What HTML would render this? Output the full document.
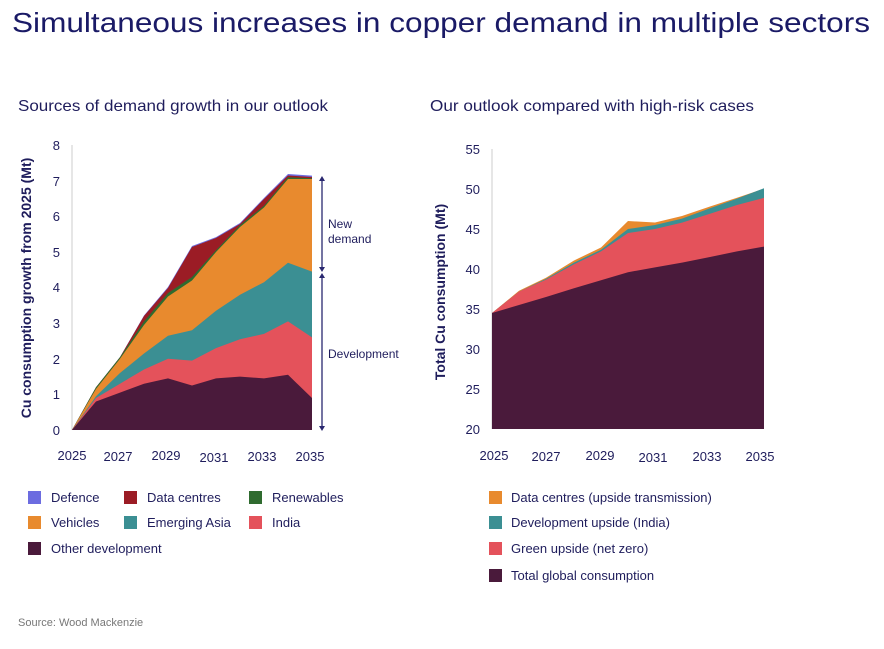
<!DOCTYPE html>
<html><head><style>
body{margin:0;background:#fff;width:884px;height:644px;overflow:hidden;font-family:"Liberation Sans",sans-serif;color:#1f1d5c}
</style></head><body>
<svg width="884" height="644" xmlns="http://www.w3.org/2000/svg" font-family="Liberation Sans, sans-serif" fill="#1f1d5c">
<text x="12" y="32" font-size="28" fill="#1a1a66" textLength="858" lengthAdjust="spacingAndGlyphs">Simultaneous increases in copper demand in multiple sectors</text>
<text x="18" y="111" font-size="16" textLength="310" lengthAdjust="spacingAndGlyphs">Sources of demand growth in our outlook</text>
<text x="430" y="111" font-size="16" textLength="324" lengthAdjust="spacingAndGlyphs">Our outlook compared with high-risk cases</text>

<!-- Left chart -->
<line x1="72" y1="145" x2="72" y2="430" stroke="#ccc"/>
<g font-size="13" text-anchor="end">
<text x="60" y="435">0</text><text x="60" y="399">1</text><text x="60" y="364">2</text><text x="60" y="328">3</text><text x="60" y="292">4</text><text x="60" y="257">5</text><text x="60" y="221">6</text><text x="60" y="186">7</text><text x="60" y="150">8</text>
</g>
<text transform="translate(31,288) rotate(-90)" font-size="14" font-weight="bold" text-anchor="middle">Cu consumption growth from 2025 (Mt)</text>
<g font-size="13" text-anchor="middle">
<text x="72" y="460">2025</text><text x="118" y="461">2027</text><text x="166" y="460">2029</text><text x="214" y="462">2031</text><text x="262" y="461">2033</text><text x="310" y="461">2035</text>
</g>
<polygon fill="#6c6ce0" points="72,430 96,387.3 120,357.1 144,315.5 168,287 192,246 216,237.1 240,223 264,198 288,174 312,175.6 312,430"/>
<polygon fill="#9b1c25" points="72,430 96,387.3 120,357.1 144,316 168,288 192,247 216,238 240,224 264,199 288,175.5 312,177 312,430"/>
<polygon fill="#2f6b2f" points="72,430 96,387.3 120,357.1 144,321.4 168,293 192,277 216,250.2 240,225.3 264,205.7 288,177.2 312,178.3 312,430"/>
<polygon fill="#e88a2e" points="72,430 96,389 120,358.8 144,325 168,296.5 192,280.5 216,252 240,227 264,207.5 288,179 312,179 312,430"/>
<polygon fill="#3b8f93" points="72,430 96,396.2 120,373 144,353.5 168,335.7 192,330.3 216,310.7 240,294.7 264,282.2 288,262.7 312,271.6 312,430"/>
<polygon fill="#e4525b" points="72,430 96,398 120,383.7 144,369.5 168,358.8 192,360.6 216,348.1 240,339.2 264,333.9 288,321.4 312,337.4 312,430"/>
<polygon fill="#4a1a3b" points="72,430 96,401.5 120,392.6 144,383.7 168,378.4 192,385.5 216,378.4 240,376.6 264,378.4 288,374.8 312,398 312,430"/>
<g stroke="#2a2870" stroke-width="1.3" fill="#2a2870">
<line x1="322" y1="180" x2="322" y2="269"/><line x1="322" y1="276" x2="322" y2="429"/>
<polygon points="322,176 319,181 325,181" stroke="none"/><polygon points="322,272 319,267 325,267" stroke="none"/>
<polygon points="322,273 319,278 325,278" stroke="none"/><polygon points="322,431 319,426 325,426" stroke="none"/>
</g>
<g font-size="12"><text x="328" y="228">New</text><text x="328" y="243">demand</text><text x="328" y="358">Development</text></g>

<!-- Right chart -->
<line x1="492" y1="149" x2="492" y2="429" stroke="#ccc"/>
<g font-size="13" text-anchor="end">
<text x="480" y="434">20</text><text x="480" y="394">25</text><text x="480" y="354">30</text><text x="480" y="314">35</text><text x="480" y="274">40</text><text x="480" y="234">45</text><text x="480" y="194">50</text><text x="480" y="154">55</text>
</g>
<text transform="translate(445,292) rotate(-90)" font-size="14" font-weight="bold" text-anchor="middle">Total Cu consumption (Mt)</text>
<g font-size="13" text-anchor="middle">
<text x="494" y="460">2025</text><text x="546" y="461">2027</text><text x="600" y="460">2029</text><text x="653" y="462">2031</text><text x="707" y="461">2033</text><text x="760" y="461">2035</text>
</g>
<polygon fill="#e88a2e" points="492,313 519,290.8 546,277.8 574,260.5 601,247.5 628,221 655,222.5 682,216 710,206.5 737,197.8 764,188.6 764,429 492,429"/>
<polygon fill="#3b8f93" points="492,313 519,291.6 546,278.8 574,262.6 601,249.8 628,229 655,225 682,218.6 710,208.2 737,198.6 764,188.2 764,429 492,429"/>
<polygon fill="#e4525b" points="492,313 519,291.6 546,279.6 574,264.2 601,251.4 628,233 655,229 682,222.6 710,213.8 737,205 764,197.8 764,429 492,429"/>
<polygon fill="#4a1a3b" points="492,313 519,305 546,297 574,288.2 601,280.2 628,272.2 655,267.4 682,262.6 710,257 737,251.4 764,246.6 764,429 492,429"/>

<!-- Legends -->
<g font-size="13">
<rect x="28" y="491" width="13" height="13" fill="#6c6ce0"/><text x="51" y="502">Defence</text>
<rect x="124" y="491" width="13" height="13" fill="#9b1c25"/><text x="147" y="502">Data centres</text>
<rect x="249" y="491" width="13" height="13" fill="#2f6b2f"/><text x="272" y="502">Renewables</text>
<rect x="28" y="516" width="13" height="13" fill="#e88a2e"/><text x="51" y="527">Vehicles</text>
<rect x="124" y="516" width="13" height="13" fill="#3b8f93"/><text x="147" y="527">Emerging Asia</text>
<rect x="249" y="516" width="13" height="13" fill="#e4525b"/><text x="272" y="527">India</text>
<rect x="28" y="542" width="13" height="13" fill="#4a1a3b"/><text x="51" y="553">Other development</text>
<rect x="489" y="491" width="13" height="13" fill="#e88a2e"/><text x="511" y="502">Data centres (upside transmission)</text>
<rect x="489" y="516" width="13" height="13" fill="#3b8f93"/><text x="511" y="527">Development upside (India)</text>
<rect x="489" y="542" width="13" height="13" fill="#e4525b"/><text x="511" y="553">Green upside (net zero)</text>
<rect x="489" y="569" width="13" height="13" fill="#4a1a3b"/><text x="511" y="580">Total global consumption</text>
</g>
<text x="18" y="626" font-size="11" fill="#777">Source: Wood Mackenzie</text>
</svg>
</body></html>
